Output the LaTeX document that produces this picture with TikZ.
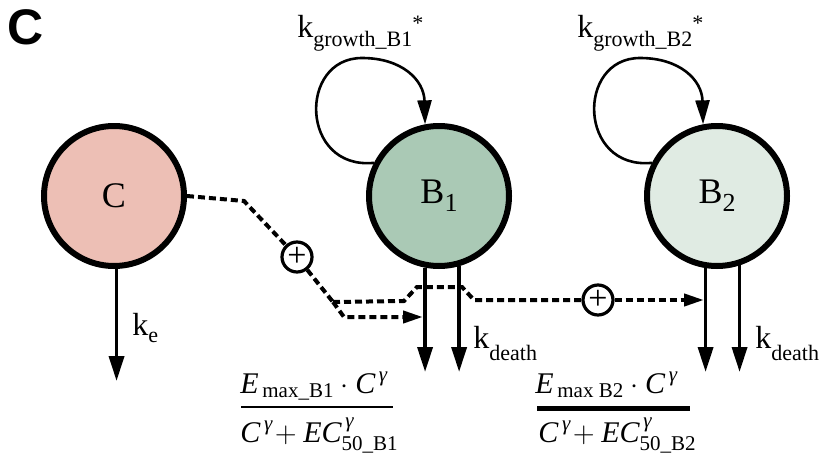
\documentclass[tikz,border=0pt]{standalone}
\usepackage{amsmath}
\usepackage{fontspec}
\setmainfont{Liberation Serif}
\newfontfamily\panelfont{Liberation Sans}
\usetikzlibrary{arrows.meta}
\newcommand\lowsub[3]{\raisebox{-#1}{\fontsize{#2}{#2}\selectfont #3}}
\definecolor{cfill}{HTML}{EDBFB5}
\definecolor{bafill}{HTML}{AAC9B5}
\definecolor{bbfill}{HTML}{E0EBE3}
\begin{document}
\begin{tikzpicture}[x=0.5pt,y=-0.5pt,
  pool/.style={circle,draw=black,line width=3pt,minimum size=70pt,inner sep=0pt,
    font=\fontsize{18}{20}\selectfont},
  flow/.style={line width=1.8pt,-{Triangle[length=12.5pt,width=7.5pt]}},
  selfloop/.style={line width=1.3pt,-{Triangle[length=12pt,width=7pt]}},
  effect/.style={line width=2pt,dash pattern=on 3.5pt off 2pt},
  effarrow/.style={effect,-{Triangle[length=10pt,width=6pt]}},
  plusnode/.style={circle,draw=black,fill=white,line width=1.6pt,minimum size=15pt,inner sep=0pt,
    font=\fontsize{17}{17}\selectfont},
  rate/.style={font=\fontsize{16}{18}\selectfont,inner sep=0pt,anchor=base west},
  fracpart/.style={font=\fontsize{15}{17}\selectfont,inner sep=0pt,anchor=base west},
]
\useasboundingbox (0,0) rectangle (819,455);

\node[font=\panelfont\bfseries\fontsize{25}{25}\selectfont,inner sep=0pt] (panel) at (26,27) {C};

% compartments
\node[pool,fill=cfill] (C) at (114,196) {C};
\node[pool,fill=bafill] (B1) at (439,196) {B\lowsub{4pt}{13}{1}};
\node[pool,fill=bbfill] (B2) at (717,196) {B\lowsub{4pt}{13}{2}};

% growth loops
\coordinate (top1) at (362,58);
\coordinate (top2) at (640,58);
\draw[selfloop] (B1.153) .. controls (300,170) and (298,58) .. (top1)
  .. controls (402,58) and (424,80) .. (B1.101);
\draw[selfloop] (B2.153) .. controls (578,170) and (576,58) .. (top2)
  .. controls (680,58) and (702,80) .. (B2.101);
\node[rate] (g1) at (297,37) {k\lowsub{5pt}{11}{growth\_B1}\raisebox{3.5pt}{\fontsize{11}{11}\selectfont *}};
\node[rate] (g2) at (577,37) {k\lowsub{5pt}{11}{growth\_B2}\raisebox{3.5pt}{\fontsize{11}{11}\selectfont *}};

% elimination / death
\coordinate (cend) at (0,381);
\coordinate (bend) at (0,372);
\draw[flow] (C.-88) -- (C.-88 |- cend);
\draw[flow] (B1.-101) -- (B1.-101 |- bend);
\draw[flow] (B1.-74) -- (B1.-74 |- bend);
\draw[flow] (B2.-99.5) -- (B2.-99.5 |- bend);
\draw[flow] (B2.-72) -- (B2.-72 |- bend);
\node[rate] (ke) at (132,335) {k\lowsub{3.5pt}{11}{e}};
\node[rate] (kd1) at (473,348) {k\lowsub{6pt}{11}{death}};
\node[rate] (kd2) at (755,348) {k\lowsub{6pt}{11}{death}};

% drug effect paths
\node[plusnode] (p1) at (297,257) {+};
\node[plusnode] (p2) at (598,300) {+};
\coordinate (br) at (333,302);
\coordinate (b1in) at (423,317);
\coordinate (b2in) at (704,300);
\draw[effect] (C.east) -- (244,201) -- (p1);
\draw[effect] (p1) -- (br);
\draw[effect] (br) -- (404,301) -- (417,287) -- (462,287) -- (474,300) -- (p2);
\draw[effarrow] (p2) -- (b2in);
\draw[effarrow] (br) -- (344,317) -- (b1in);

% fractions
\node[fracpart] (n1) at (240,393) {$\textit{E}_{\,\text{max\_B1}}\cdot\textit{C}^{\,\text{\itshape γ}}$};
\node[fracpart] (d1) at (240,442) {$\textit{C}^{\,\text{\itshape γ}}\!+\textit{EC}^{\,\text{\itshape γ}}_{\text{50\_B1}}$};
\coordinate (bar1l) at (241,407);
\coordinate (bar1r) at (393,407);
\draw[line width=1.3pt] (bar1l) -- (bar1r);

\node[fracpart] (n2) at (535,393) {$\textit{E}_{\,\text{max\ B2}}\cdot\textit{C}^{\,\text{\itshape γ}}$};
\node[fracpart] (d2) at (538,442) {$\textit{C}^{\,\text{\itshape γ}}\!+\textit{EC}^{\,\text{\itshape γ}}_{\text{50\_B2}}$};
\coordinate (bar2l) at (537,408);
\coordinate (bar2r) at (690,408);
\draw[line width=2.5pt] (bar2l) -- (bar2r);
\end{tikzpicture}
\end{document}
